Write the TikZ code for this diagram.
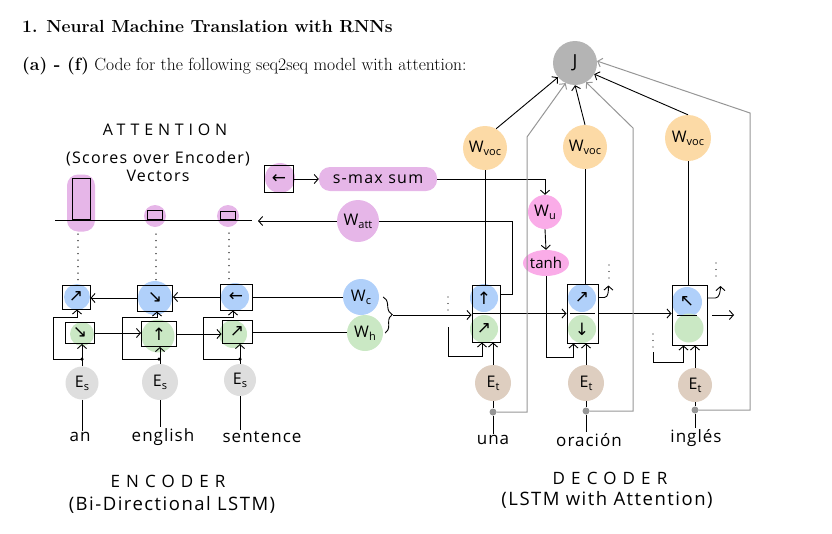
\documentclass[tikz,border=0pt]{standalone}
\usepackage{fontspec}
\newfontfamily\hand{Open Sans}
\newfontfamily\sym{DejaVu Sans}
\usetikzlibrary{arrows.meta,calc,decorations.pathreplacing,shapes.geometric}
\definecolor{attpink}{RGB}{230,182,232}
\definecolor{hotpink}{RGB}{250,172,232}
\definecolor{encblue}{RGB}{176,208,250}
\definecolor{encgreen}{RGB}{202,232,196}
\definecolor{esgray}{RGB}{222,222,222}
\definecolor{ettan}{RGB}{222,206,192}
\definecolor{vocorange}{RGB}{252,218,166}
\definecolor{jgray}{RGB}{180,180,180}
\definecolor{gline}{RGB}{150,150,150}
\newcommand\hs[2]{#1\raisebox{-0.35ex}{\fontsize{11}{11}\selectfont#2}}
\begin{document}
\begin{tikzpicture}[x=1pt,y=-1pt,
  ln/.style={line width=0.9pt},
  arr/.style={ln,-{Straight Barb[length=4pt,width=9pt]}},
  gl/.style={draw=gline,line width=1pt},
  garr/.style={gl,-{Straight Barb[length=4pt,width=9pt]}},
  blob/.style={circle,inner sep=0pt,font=\hand\fontsize{16}{16}\selectfont},
  cbox/.style={draw,line width=0.9pt,inner sep=0pt,font=\sym\fontsize{17}{17}\selectfont},
  dbox/.style={draw,line width=0.9pt,inner sep=0pt},
  sym/.style={font=\sym\fontsize{17}{17}\selectfont},
  dotl/.style={line width=1.4pt,line cap=round,dash pattern=on 0pt off 6.5pt},
  word/.style={font=\hand\addfontfeature{LetterSpace=6}\fontsize{17}{17}\selectfont,inner sep=1pt},
  lbl/.style={font=\hand\addfontfeature{LetterSpace=8}\fontsize{16}{18}\selectfont,align=center,inner sep=1pt},
  big/.style={font=\hand\addfontfeature{LetterSpace=8}\fontsize{18.5}{20}\selectfont,align=center,inner sep=1pt},
  caps/.style={font=\hand\addfontfeature{LetterSpace=36}\fontsize{17}{18}\selectfont,inner sep=1pt},
  gdot/.style={circle,fill=gline,inner sep=0pt,minimum size=7pt},
  jn/.style={circle,fill=black,inner sep=0pt,minimum size=3.5pt}
]
\useasboundingbox (0,0) rectangle (832,533);
% header
\node[anchor=base west,inner sep=0,font=\bfseries\fontsize{17.5}{17.5}\selectfont] (title) at (22,32) {1. Neural Machine Translation with RNNs};
\node[anchor=base west,inner sep=0,font=\fontsize{17.6}{17.6}\selectfont] (subt) at (22,70) {\textbf{(a) - (f)} Code for the following seq2seq model with attention:};

% attention labels
\node[lbl,font=\hand\addfontfeature{LetterSpace=30}\fontsize{16}{18}\selectfont] (atttitle) at (165,130) {ATTENTION};
\node[lbl] (attsub) at (158,166) {(Scores over Encoder)\\Vectors};

% attention bars
\node[fill=attpink,rounded corners=11pt,minimum width=28pt,minimum height=57pt,inner sep=0] (bar1c) at (81,203) {};
\node[dbox,fill=attpink,minimum width=18pt,minimum height=41pt,anchor=south] (bar1) at (81,220) {};
\node[blob,fill=attpink,minimum size=22pt] (bar2c) at (155,216) {};
\node[dbox,minimum width=15pt,minimum height=9pt,anchor=south] (bar2) at (155,220) {};
\node[blob,fill=attpink,minimum size=22pt] (bar3c) at (228,216) {};
\node[dbox,minimum width=15pt,minimum height=8pt,anchor=south] (bar3) at (228,220) {};
\coordinate (axL) at (55,220);
\coordinate (axR) at (252,220);
\draw[ln] (axL) -- (axR);

% softmax box and s-max sum
\node[blob,fill=attpink,minimum size=30pt] (smc) at (280,178) {};
\node[cbox,minimum width=29pt,minimum height=27pt] (smbox) at (279,179) {←};
\node[fill=attpink,rounded corners=11pt,minimum width=118pt,minimum height=24pt,inner sep=0,
      font=\hand\addfontfeature{LetterSpace=8}\fontsize{16}{16}\selectfont] (smax) at (378,179) {s-max sum};
\draw[arr] (smbox.east) -- (smax.west);

% Watt
\node[blob,fill=attpink,minimum size=42pt] (watt) at (358,221) {\hs{W}{att}};
\coordinate (attin) at (258,221);
\draw[arr] (watt.west) -- (attin);

% encoder cells
\node[blob,fill=encblue,minimum size=26pt] (eb1c) at (77,297) {};
\node[cbox,minimum width=28pt,minimum height=24pt] (eb1) at (76,297) {↗};
\node[blob,fill=encgreen,minimum size=24pt] (eg1c) at (82,334) {};
\node[cbox,minimum width=29pt,minimum height=21pt] (eg1) at (80,333) {↘};
\node[blob,fill=esgray,minimum size=33pt] (es1) at (82,383) {\hs{E}{s}};

\node[blob,fill=encblue,minimum size=34pt] (eb2c) at (155,298) {};
\node[cbox,minimum width=35pt,minimum height=26pt] (eb2) at (155,298) {↘};
\node[blob,fill=encgreen,minimum size=33pt] (eg2c) at (158,336) {};
\node[cbox,minimum width=35pt,minimum height=25pt] (eg2) at (159,334) {↑};
\node[blob,fill=esgray,minimum size=36pt] (es2) at (160,382) {\hs{E}{s}};

\node[blob,fill=encblue,minimum size=28pt] (eb3c) at (235,297) {};
\node[cbox,minimum width=32pt,minimum height=26pt] (eb3) at (236,297) {←};
\node[blob,fill=encgreen,minimum size=28pt] (eg3c) at (233,334) {};
\node[cbox,minimum width=30pt,minimum height=23pt] (eg3) at (237,332) {↗};
\node[blob,fill=esgray,minimum size=32pt] (es3) at (240,380) {\hs{E}{s}};

% encoder words
\node[word] (w1) at (80,437) {an};
\node[word] (w2) at (163,437) {english};
\node[word] (w3) at (262,437) {sentence};
\draw[ln] (es1.south) -- (es1.south |- w1.north);
\draw[ln] (es2.south) -- (es2.south |- w2.north);
\draw[ln] (es3.south) -- (es3.south |- w3.north);

% encoder inputs and loops
\node[jn] (j1) at (82,359) {};
\node[jn] (j2) at (159,359) {};
\node[jn] (j3) at (240,359) {};
\draw[arr] (es1.north) -- (es1.north |- eg1.south);
\draw[arr] (es2.north) -- (es2.north |- eg2.south);
\draw[arr] (es3.north) -- (es3.north |- eg3.south);
\draw[arr] (j1.center) -- ++(-29,0) |- ($(eb1.south)+(1,8)$) -- ($(eb1.south)+(1,0)$);
\draw[arr] (j2.center) -- ++(-37,0) |- ($(eb2.south)+(2,6)$) -- ($(eb2.south)+(2,0)$);
\draw[arr] (j3.center) -- ++(-37,0) |- ($(eb3.south)+(-3,7)$) -- ($(eb3.south)+(-3,0)$);

% encoder recurrences
\draw[arr] (eb3.west) -- (eb3.west -| eb2.east);
\draw[arr] (eb2.west) -- (eb2.west -| eb1.east);
\draw[arr] (eg1.east) -- (eg1.east -| eg2.west);
\draw[arr] (eg2.east) -- (eg2.east -| eg3.west);

% dotted links to attention
\draw[dotl] ($(eb1.north)+(2,-5)$) -- ($(eb1.north)+(2,-57)$);
\draw[dotl] ($(eb2.north)+(1,-5)$) -- ($(eb2.north)+(1,-57)$);
\draw[dotl] ($(eb3.north)+(-7,-5)$) -- ($(eb3.north)+(-7,-57)$);

% Wc, Wh
\node[blob,fill=encblue,minimum size=36pt] (wc) at (361,297) {\hs{W}{c}};
\node[blob,fill=encgreen,minimum size=36pt] (wh) at (365,333) {\hs{W}{h}};
\draw[ln] (eb3.east) -- (eb3.east -| wc.west);
\draw[ln] (eg3.east) -- (eg3.east -| wh.west);
\draw[ln,decorate,decoration={brace,amplitude=8pt}] ($(wc.east)+(4,0)$) -- ($(wh.east)+(2,0)$);
\coordinate (btip) at ($($(wc.east)!0.5!(wh.east)$)+(12,0)$);

% decoder cells
\node[blob,fill=encblue,minimum size=28pt,sym] (d1b) at (484,298) {↑};
\node[blob,fill=encgreen,minimum size=28pt,sym] (d1g) at (484,329) {↗};
\node[dbox,minimum width=28pt,minimum height=57pt] (d1box) at (486,313.5) {};
\draw[ln] (d1box.west) -- (d1box.east);

\node[blob,fill=encblue,minimum size=28pt,sym] (d2b) at (582,298) {↗};
\node[blob,fill=encgreen,minimum size=28pt,sym] (d2g) at (582,329) {↓};
\node[dbox,minimum width=31pt,minimum height=59pt] (d2box) at (582.5,313.5) {};
\draw[ln] ($(d2box.west)+(3,0)$) -- ($(d2box.east)+(-3,0)$);

\node[blob,fill=encblue,minimum size=30pt,sym] (d3b) at (687,302) {↖};
\node[blob,fill=encgreen,minimum size=29pt] (d3g) at (689,328) {};
\node[dbox,minimum width=35pt,minimum height=60pt] (d3box) at (689.5,315) {};
\draw[ln] ($(d3box.west)+(5,0)$) -- ($(d3box.east)+(-10,0)$);

\draw[arr] (btip) -- (btip -| d1box.west);
\draw[arr] (d1box.east) -- (d2box.west);
\draw[arr] (d2box.east) -- (d2box.east -| d3box.west);
\coordinate (d3out) at (734,315);
\draw[arr] ($(d3box.east)+(5,0)$) -- (d3out);

% decoder output to Watt
\draw[ln] ($(d1box.north east)+(0,10)$) -- ++(12,0) |- (watt.east);

% Wu, tanh
\node[blob,fill=hotpink,minimum size=34pt] (wu) at (545,212) {\hs{W}{u}};
\node[ellipse,fill=hotpink,minimum width=46pt,minimum height=26pt,inner sep=0,
      font=\hand\fontsize{15}{15}\selectfont] (tanh) at (546,263) {tanh};
\draw[arr] (smax.east) -| (wu.north);
\draw[arr] (wu.south) -- (tanh.north);
\draw[arr] (tanh.south) |- ($(d2box.south)+(-9,14)$) -- ($(d2box.south)+(-9,0)$);

% decoder feedback stubs
\coordinate (d1in) at (448,327);
\coordinate (d1dt) at (448,297);
\draw[dotl] (d1dt) -- ++(0,16);
\draw[arr] (d1in) |- ($(d1box.south)+(-4,14)$) -- ($(d1box.south)+(-4,0)$);
\coordinate (d3in) at (653,352);
\coordinate (d3dt) at (653,334);
\draw[dotl] (d3dt) -- ++(0,14);
\draw[arr] (d3in) |- ($(d3box.south)+(-6,17)$) -- ($(d3box.south)+(-6,0)$);

\draw[arr] ($(d2box.east)+(0,-16)$) -- ++(6,0) .. controls +(4,0) and +(0,5) .. ++(4,-12);
\coordinate (d2dt) at (609,265);
\draw[dotl] (d2dt) -- ++(0,14);
\draw[arr] ($(d3box.east)+(0,-17)$) -- ++(8,0) .. controls +(4,0) and +(0,5) .. ++(5,-12);
\coordinate (d3dt2) at (716,263);
\draw[dotl] (d3dt2) -- ++(0,14);

% Et nodes and inputs
\node[blob,fill=ettan,minimum size=36pt] (et1) at (493,383) {\hs{E}{t}};
\node[blob,fill=ettan,minimum size=36pt] (et2) at (586,383) {\hs{E}{t}};
\node[blob,fill=ettan,minimum size=34pt] (et3) at (695,385) {\hs{E}{t}};
\draw[arr] (et1.north) -- (et1.north |- d1box.south);
\draw[arr] (et2.north) -- (et2.north |- d2box.south);
\draw[arr] (et3.north) -- (et3.north |- d3box.south);
\node[gdot] (g1) at (493,412) {};
\node[gdot] (g2) at (586,411) {};
\node[gdot] (g3) at (695,410) {};
\node[word] (wd1) at (493,440) {una};
\node[word] (wd2) at (589,440) {oración};
\node[word] (wd3) at (696,438) {inglés};
\draw[ln] (et1.south) -- (g1);
\draw[ln] (et2.south) -- (g2);
\draw[ln] (et3.south) -- (g3);
\draw[ln] (g1) -- (g1 |- wd1.north);
\draw[ln] (g2) -- (g2 |- wd2.north);
\draw[ln] (g3) -- (g3 |- wd3.north);

% Wvoc and J
\node[blob,fill=vocorange,minimum size=44pt] (voc1) at (485,148) {\hs{W}{voc}};
\node[blob,fill=vocorange,minimum size=44pt] (voc2) at (585,147) {\hs{W}{voc}};
\node[blob,fill=vocorange,minimum size=46pt] (voc3) at (688,138) {\hs{W}{voc}};
\node[blob,fill=jgray,minimum size=44pt,font=\hand\fontsize{18}{18}\selectfont] (J) at (575,63) {J};
\draw[ln] (voc1.south) -- (voc1.south |- d1box.north);
\draw[ln] (voc2.south) -- (voc2.south |- d2box.north);
\draw[ln] (voc3.south) -- (voc3.south |- d3box.north);
\draw[arr] (voc1.60) -- (J.220);
\draw[arr] (voc2.north) -- (J.south);
\draw[arr] (voc3.north) -- (J.330);

% grey target lines
\coordinate (gb1) at (527,137);
\coordinate (gb2) at (633,128);
\coordinate (gb3) at (750,113);
\draw[garr] (g1) -| (gb1) -- (J.245);
\draw[garr] (g2) -| (gb2) -- (J.300);
\draw[garr] (g3) -| (gb3) -- (J.5);

% bottom labels
\node[caps] (enc1) at (168,481) {ENCODER};
\node[big] (enc2) at (172,505) {(Bi-Directional LSTM)};
\node[caps] (dec1) at (610,478) {DECODER};
\node[big] (dec2) at (607,500) {(LSTM with Attention)};
\end{tikzpicture}
\end{document}
